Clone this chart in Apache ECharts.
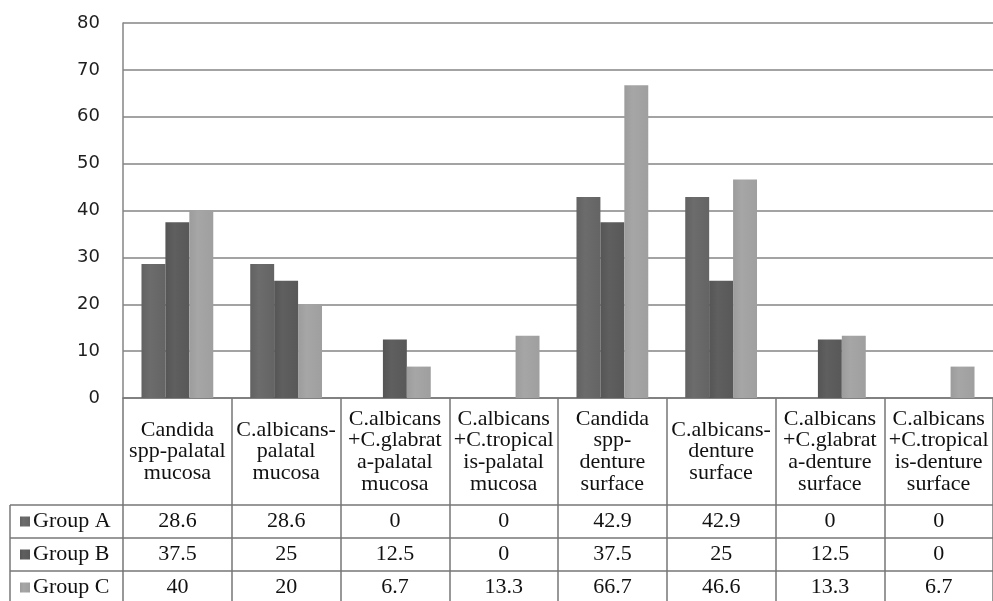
<!DOCTYPE html>
<html>
<head>
<meta charset="utf-8">
<script src="https://cdn.jsdelivr.net/npm/echarts@6/dist/echarts.min.js"></script>
<style>html,body{margin:0;padding:0;background:#fff}#c{width:993px;height:601px}</style>
</head>
<body>
<div id="c"></div>
<script>
var categories = [
  'Candida\nspp-palatal\nmucosa',
  'C.albicans-\npalatal\nmucosa',
  'C.albicans\n+C.glabrat\na-palatal\nmucosa',
  'C.albicans\n+C.tropical\nis-palatal\nmucosa',
  'Candida\nspp-\ndenture\nsurface',
  'C.albicans-\ndenture\nsurface',
  'C.albicans\n+C.glabrat\na-denture\nsurface',
  'C.albicans\n+C.tropical\nis-denture\nsurface'
];
var seriesNames = ['Group A', 'Group B', 'Group C'];
var groupA = [28.6, 28.6, 0, 0, 42.9, 42.9, 0, 0];
var groupB = [37.5, 25, 12.5, 0, 37.5, 25, 12.5, 0];
var groupC = [40, 20, 6.7, 13.3, 66.7, 46.6, 13.3, 6.7];
var yTicks = { min: 0, max: 80, interval: 10 };

var values = [groupA, groupB, groupC];
var serif = 'Liberation Serif';
var sans = 'DejaVu Sans';
var lineCol = '#777777';
var gridCol = '#858585';
var colors = [
  new echarts.graphic.LinearGradient(0, 0, 1, 0, [{offset: 0, color: '#626262'}, {offset: 0.35, color: '#6c6c6c'}, {offset: 1, color: '#646464'}]),
  new echarts.graphic.LinearGradient(0, 0, 1, 0, [{offset: 0, color: '#555555'}, {offset: 0.35, color: '#5f5f5f'}, {offset: 1, color: '#585858'}]),
  new echarts.graphic.LinearGradient(0, 0, 1, 0, [{offset: 0, color: '#9c9c9c'}, {offset: 0.35, color: '#a6a6a6'}, {offset: 1, color: '#9f9f9f'}])
];

var chart = echarts.init(document.getElementById('c'));
var rowTop = 107, rowH = 33;
var xAxes = [{
  type: 'category',
  data: categories,
  position: 'bottom',
  axisLine: { show: true, onZero: false, lineStyle: { color: lineCol, width: 1.5 } },
  axisTick: { show: true, length: 210, lineStyle: { color: lineCol, width: 1.5 } },
  axisLabel: {
    interval: 0, margin: 53.5, verticalAlign: 'middle', align: 'center',
    fontFamily: serif, fontSize: 22, lineHeight: 21.7, color: '#111'
  }
}];
values.forEach(function (arr, i) {
  xAxes.push({
    type: 'category',
    data: arr.map(function (v) { return String(v); }),
    position: 'bottom',
    offset: rowTop + i * rowH,
    axisLine: { show: true, onZero: false, lineStyle: { color: lineCol, width: 1.5 } },
    axisTick: { show: false },
    axisLabel: {
      interval: 0, margin: rowH / 2, verticalAlign: 'middle',
      fontFamily: serif, fontSize: 22, color: '#111'
    }
  });
});

var legendTop = 398 + rowTop;
chart.setOption({
  animation: false,
  textStyle: { fontFamily: serif },
  grid: { left: 123, top: 23, right: -13, bottom: 203, containLabel: false },
  legend: {
    data: seriesNames,
    orient: 'vertical',
    left: 20,
    top: legendTop + (rowH - 24) / 2,
    padding: 0,
    itemGap: rowH - 24,
    itemWidth: 10,
    itemHeight: 10,
    icon: 'rect',
    selectedMode: false,
    textStyle: { fontFamily: serif, fontSize: 22, lineHeight: 24, color: '#111', padding: [0, 0, 0, -2] }
  },
  xAxis: xAxes,
  yAxis: {
    type: 'value',
    min: yTicks.min, max: yTicks.max, interval: yTicks.interval,
    axisLine: { show: true, lineStyle: { color: gridCol, width: 1.5 } },
    axisTick: { show: false },
    splitLine: { lineStyle: { color: gridCol, width: 1.6 } },
    axisLabel: { margin: 23, fontFamily: sans, fontSize: 18, color: '#1e1e1e' }
  },
  series: values.map(function (arr, i) {
    return {
      name: seriesNames[i],
      type: 'bar',
      xAxisIndex: 0,
      data: arr,
      barGap: '0%',
      barCategoryGap: '34%',
      itemStyle: { color: colors[i] }
    };
  }),
  graphic: [
    { type: 'line', shape: { x1: 10, y1: legendTop, x2: 123, y2: legendTop }, style: { stroke: lineCol, lineWidth: 1.5 } },
    { type: 'line', shape: { x1: 10, y1: legendTop + rowH, x2: 123, y2: legendTop + rowH }, style: { stroke: lineCol, lineWidth: 1.5 } },
    { type: 'line', shape: { x1: 10, y1: legendTop + 2 * rowH, x2: 123, y2: legendTop + 2 * rowH }, style: { stroke: lineCol, lineWidth: 1.5 } },
    { type: 'line', shape: { x1: 10, y1: legendTop, x2: 10, y2: 610 }, style: { stroke: lineCol, lineWidth: 1.5 } }
  ]
});
</script>
</body>
</html>
